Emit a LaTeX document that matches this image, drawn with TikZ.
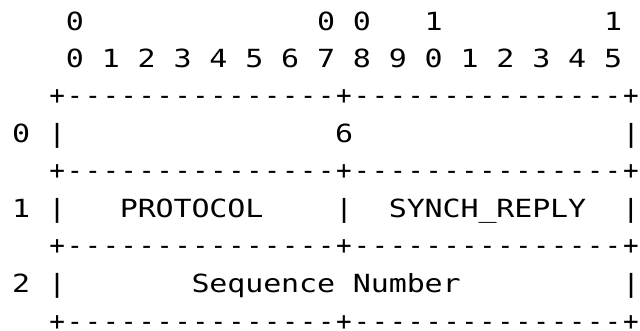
\documentclass[tikz,border=0pt]{standalone}
\usepackage{fontspec}
\newfontfamily\monofont[FakeStretch=1.2]{DejaVu Sans Mono}
\newfontfamily\rulefont{DejaVu Sans Mono}

% one character per fixed-width cell
\newlength\cw
\setlength\cw{0.44875cm}
\newcommand\cells[1]{\cellsi#1\relax}
\def\cellsi#1{\ifx#1\relax\else\makebox[\cw]{#1}\expandafter\cellsi\fi}

\begin{document}
\begin{tikzpicture}[x=0.025cm,y=-0.025cm,
	cellrow/.style={anchor=base west,inner sep=0pt,font=\monofont\fontsize{17.8}{20}\selectfont},
	borderrow/.style={cellrow,font=\rulefont\fontsize{18.5}{20}\selectfont}]

	\path[fill=white] (0,0) rectangle (640,328);

	\node[cellrow] (bitsA) at ({12+17.95*3},{30.1}) {\cells{0~~~~~~~~~~~~~0~0~~~1~~~~~~~~~1}};
	\node[cellrow] (bitsB) at ({12+17.95*3},{30.1+37.6}) {\cells{0~1~2~3~4~5~6~7~8~9~0~1~2~3~4~5}};

	\foreach \r in {2,4,6,8}
		\node[borderrow] (border\r) at ({12+17.95*2},{29.6+37.6*\r}) {\cells{+---------------+---------------+}};

	\node[cellrow] (word0) at (12,{30.1+37.6*3}) {\cells{0~|~~~~~~~~~~~~~~~6~~~~~~~~~~~~~~~|}};
	\node[cellrow] (word1) at (12,{30.1+37.6*5}) {\cells{1~|~~~PROTOCOL~~~~|~~SYNCH\_REPLY~~|}};
	\node[cellrow] (word2) at (12,{30.1+37.6*7}) {\cells{2~|~~~~~~~Sequence~Number~~~~~~~~~|}};

\end{tikzpicture}
\end{document}
